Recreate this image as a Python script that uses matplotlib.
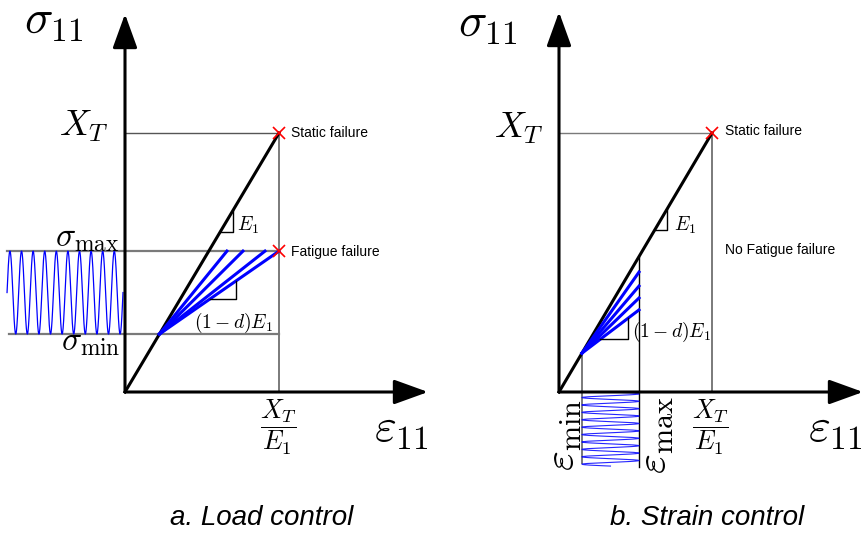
import numpy as np
import matplotlib.pyplot as plt

plt.rcParams['mathtext.fontset'] = 'cm'
plt.rcParams['font.family'] = ['Liberation Sans', 'DejaVu Sans']

# normalised units: stress / X_T , strain / (X_T / E1)
x_t = 1.0
strain_fail = 1.0

# a. load control
sig_max = 0.544
sig_min = 0.224
load_fan_strain = [0.662, 0.766, 0.909, 1.0]   # damaged slopes end on sigma_max
load_cycles = 10
load_wave_x = [-0.766, -0.013]

# b. strain control
eps_max = 0.523
eps_min = 0.150
strain_fan_stress = [0.463, 0.409, 0.363, 0.317]  # damaged slopes end on eps_max
strain_cycles = 10
strain_wave_y = [0.0, -0.286]

W, H = 868, 537
fig = plt.figure(figsize=(W / 100, H / 100), dpi=100)

GRAY = '#7a7a7a'
BLUE = '#0000ff'


def panel(ox, oy, sx, sy):
    # one transparent axes over the whole figure, origin of the diagram at pixel (ox, oy)
    ax = fig.add_axes([0, 0, 1, 1])
    ax.set_xlim(-ox / sx, (W - ox) / sx)
    ax.set_ylim((oy - H) / sy, oy / sy)
    ax.axis('off')
    ax.patch.set_alpha(0)
    px = lambda x, y: ((x - ox) / sx, (oy - y) / sy)
    return ax, px


def axes_arrows(ax, xtip, ytip):
    st = '-|>,head_length=1.05,head_width=0.38'
    for tip in [(xtip, 0), (0, ytip)]:
        ax.annotate('', xy=tip, xytext=(0, 0),
                    arrowprops=dict(arrowstyle=st, mutation_scale=20, lw=2.2,
                                    color='k', shrinkA=0, shrinkB=0))


def slope_tri(ax, p0, slope, x0, x1):
    y0 = p0[1] + slope * (x0 - p0[0])
    y1 = p0[1] + slope * (x1 - p0[0])
    ax.plot([x0, x1, x1], [y0, y0, y1], color='k', lw=1.0)


t = np.linspace(0, 1, 800)

# ---------------- a. Load control ----------------
ax, px = panel(125, 392, 154, 259)
ax.plot([0, strain_fail], [x_t, x_t], color='#555555', lw=1.0)
ax.plot([strain_fail, strain_fail], [0, x_t], color=GRAY, lw=1.4)
ax.plot([px(7, 0)[0], strain_fail], [sig_max, sig_max], color=GRAY, lw=1.6)
ax.plot([px(9, 0)[0], strain_fail], [sig_min, sig_min], color=GRAY, lw=1.6)
axes_arrows(ax, px(428, 0)[0], px(0, 14)[1])
ax.plot([0, strain_fail], [0, x_t], color='k', lw=2.2)
for e in load_fan_strain:
    ax.plot([sig_min, e], [sig_min, sig_max], color=BLUE, lw=2.2)
ax.plot(load_wave_x[0] + (load_wave_x[1] - load_wave_x[0]) * t,
        (sig_max + sig_min) / 2 + (sig_max - sig_min) / 2 * np.sin(2 * np.pi * load_cycles * t),
        color=BLUE, lw=0.9)
ax.plot([strain_fail] * 2, [x_t, sig_max], 'x', color='red', ms=8, mew=1.2)

slope_tri(ax, (0, 0), 1.0, 0.618, 0.701)
bslope = (sig_max - sig_min) / (load_fan_strain[-1] - sig_min)
slope_tri(ax, (sig_min, sig_min), bslope, 0.552, 0.721)

ax.text(*px(54, 22), r'$\sigma_{11}$', fontsize=34, ha='center', va='center')
ax.text(*px(109, 126), r'$X_T$', fontsize=26, ha='right', va='center')
ax.text(*px(119, 238), r'$\sigma_{\mathrm{max}}$', fontsize=24, ha='right', va='center')
ax.text(*px(121, 342), r'$\sigma_{\mathrm{min}}$', fontsize=24, ha='right', va='center')
ax.text(*px(278, 427), r'$\dfrac{X_T}{E_1}$', fontsize=19, ha='center', va='center')
ax.text(*px(401, 430), r'$\varepsilon_{11}$', fontsize=34, ha='center', va='center')
ax.text(*px(237, 225), r'$E_1$', fontsize=14, ha='left', va='center')
ax.text(*px(194, 323), r'$(1-d)E_1$', fontsize=14, ha='left', va='center')
ax.text(*px(291, 133), 'Static failure', fontsize=10, ha='left', va='center')
ax.text(*px(291, 252), 'Fatigue failure', fontsize=10, ha='left', va='center')
ax.text(*px(262, 518), 'a. Load control', fontsize=20, style='italic', ha='center', va='center')

# ---------------- b. Strain control ----------------
ax, px = panel(559, 392, 153, 259)
ax.plot([0, strain_fail], [x_t, x_t], color=GRAY, lw=1.0)
ax.plot([strain_fail, strain_fail], [0, x_t], color=GRAY, lw=1.4)
ax.plot([eps_min, eps_min], [px(0, 463)[1], eps_min], color=GRAY, lw=1.4)
ax.plot([eps_max, eps_max], [px(0, 467)[1], eps_max], color='k', lw=1.0)
axes_arrows(ax, px(863, 0)[0], px(0, 12)[1])
ax.plot([0, strain_fail], [0, x_t], color='k', lw=2.2)
for s in strain_fan_stress:
    ax.plot([eps_min, eps_max], [eps_min, s], color=BLUE, lw=2.2)
ax.plot((eps_max + eps_min) / 2 + (eps_max - eps_min) / 2 * np.sin(2 * np.pi * strain_cycles * t),
        strain_wave_y[0] + (strain_wave_y[1] - strain_wave_y[0]) * t,
        color=BLUE, lw=0.8, alpha=0.85)
ax.plot([strain_fail], [x_t], 'x', color='red', ms=8, mew=1.2)

slope_tri(ax, (0, 0), 1.0, 0.627, 0.706)
bslope = (strain_fan_stress[-1] - eps_min) / (eps_max - eps_min)
slope_tri(ax, (eps_min, eps_min), bslope, 0.268, 0.451)

ax.text(*px(488, 25), r'$\sigma_{11}$', fontsize=34, ha='center', va='center')
ax.text(*px(544, 128), r'$X_T$', fontsize=26, ha='right', va='center')
ax.text(*px(710, 427), r'$\dfrac{X_T}{E_1}$', fontsize=19, ha='center', va='center')
ax.text(*px(835, 430), r'$\varepsilon_{11}$', fontsize=34, ha='center', va='center')
ax.text(*px(564, 435), r'$\varepsilon_{\mathrm{min}}$', fontsize=31, rotation=90, ha='center', va='center')
ax.text(*px(656, 435), r'$\varepsilon_{\mathrm{max}}$', fontsize=31, rotation=90, ha='center', va='center')
ax.text(*px(674, 225), r'$E_1$', fontsize=14, ha='left', va='center')
ax.text(*px(632, 332), r'$(1-d)E_1$', fontsize=14, ha='left', va='center')
ax.text(*px(725, 131), 'Static failure', fontsize=10, ha='left', va='center')
ax.text(*px(725, 250), 'No Fatigue failure', fontsize=10, ha='left', va='center')
ax.text(*px(707, 518), 'b. Strain control', fontsize=20, style='italic', ha='center', va='center')

fig.savefig('out.png', dpi=100)
